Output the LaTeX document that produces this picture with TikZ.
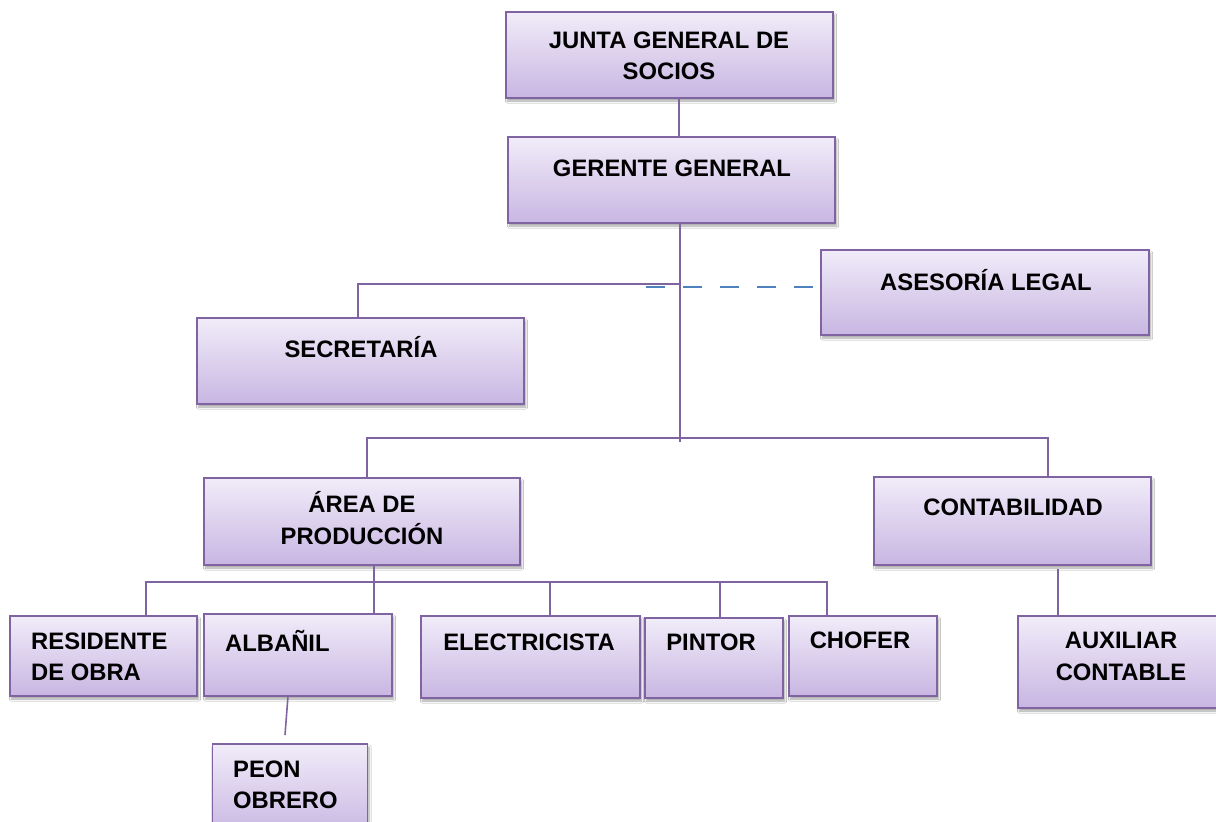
\documentclass[tikz,border=0pt]{standalone}
\usepackage{fontspec}
\setmainfont{Liberation Sans}
\usetikzlibrary{shadows.blur,calc}
\definecolor{boxline}{HTML}{8064A2}
\definecolor{boxtop}{HTML}{F1ECF9}
\definecolor{boxbot}{HTML}{C8B6E2}
\definecolor{dashblue}{HTML}{4F81BD}
\tikzset{
  box/.style={rectangle, draw=boxline, line width=1.5pt, top color=boxtop, bottom color=boxbot,
    inner sep=0pt, outer sep=0pt,
    blur shadow={shadow xshift=1.5pt, shadow yshift=-3pt, shadow blur steps=6, shadow opacity=35}},
  lbl/.style={font=\bfseries\fontsize{23.8}{31.5}\selectfont, align=center, inner sep=0pt, text=black},
  lbll/.style={lbl, align=left, anchor=west},
  conn/.style={draw=boxline, line width=1.6pt},
  dashconn/.style={draw=dashblue, line width=1.8pt, dash pattern=on 19pt off 18pt, dash phase=29pt}
}
\begin{document}
\begin{tikzpicture}[x=1pt,y=-1pt]
\useasboundingbox (0,0) rectangle (1216,822);
\clip (0,0) rectangle (1216,822);
\fill[white] (0,0) rectangle (1216,822);
% boxes
\node[box, minimum width=327pt, minimum height=86pt] (junta) at (669.5,55) {};
\node[box, minimum width=327pt, minimum height=86pt] (gerente) at (671.5,180) {};
\node[box, minimum width=328pt, minimum height=85pt] (asesoria) at (985,292.5) {};
\node[box, minimum width=327pt, minimum height=86pt] (secretaria) at (360.5,361) {};
\node[box, minimum width=316pt, minimum height=87pt] (area) at (362,521.5) {};
\node[box, minimum width=277pt, minimum height=88pt] (contab) at (1012.5,521) {};
\node[box, minimum width=187pt, minimum height=80pt] (residente) at (103.5,656) {};
\node[box, minimum width=188pt, minimum height=82pt] (albanil) at (298,655) {};
\node[box, minimum width=219pt, minimum height=82pt] (electricista) at (530.5,657) {};
\node[box, minimum width=138pt, minimum height=80pt] (pintor) at (714,658) {};
\node[box, minimum width=148pt, minimum height=80pt] (chofer) at (863,656) {};
\node[box, minimum width=240pt, minimum height=92pt] (aux) at (1138,662) {};
\node[box, minimum width=155pt, minimum height=92pt] (peon) at (290,790) {};
% texts
\node[lbl] (junta-t) at (669,56) {JUNTA GENERAL DE\\SOCIOS};
\node[lbl] (gerente-t) at (672,168) {GERENTE GENERAL};
\node[lbl] (asesoria-t) at (986,280) {ASESORÍA LEGAL};
\node[lbl] (secretaria-t) at (361,347) {SECRETARÍA};
\node[lbl] (area-t) at (362,518) {ÁREA DE\\PRODUCCIÓN};
\node[lbl] (contab-t) at (1013,507) {CONTABILIDAD};
\node[lbll] (residente-t) at (31,657) {RESIDENTE\\DE OBRA};
\node[lbll] (albanil-t) at (225,641) {ALBAÑIL};
\node[lbl] (electricista-t) at (529,642) {ELECTRICISTA};
\node[lbl] (pintor-t) at (711,642) {PINTOR};
\node[lbl] (chofer-t) at (860,640) {CHOFER};
\node[lbl] (aux-t) at (1121,656.5) {AUXILIAR\\CONTABLE};
\node[lbll] (peon-t) at (233,785) {PEON\\OBRERO};
% connector coordinates
\coordinate (trunkx) at (680,0);
\coordinate (trunkend) at (680,442);
\coordinate (secy) at (0,284);
\coordinate (busy) at (0,438);
\coordinate (bus2y) at (0,582);
\coordinate (dashy) at (0,287);
\coordinate (dashend) at (644,287);
\coordinate (choferin) at (827,616);
% connectors
\draw[conn] ([xshift=9.5pt]junta.south) -- ([xshift=7.5pt]gerente.north);
\draw[conn] (gerente.south -| trunkx) -- (trunkend);
\draw[conn] (secy -| trunkx) -| ([xshift=-2.5pt]secretaria.north);
\draw[dashconn] (asesoria.west |- dashy) -- (dashend);
\draw[conn] ([xshift=5pt]area.north) |- (busy -| trunkx) -| ([xshift=35.5pt]contab.north);
\draw[conn] ([xshift=12pt]area.south) -- ([xshift=76pt]albanil.north);
\draw[conn] ([xshift=42.5pt]residente.north) |- (bus2y -| choferin) -- (choferin);
\draw[conn] ([xshift=19.5pt]electricista.north) -- ([xshift=19.5pt]electricista.north |- bus2y);
\draw[conn] ([xshift=6pt]pintor.north) -- ([xshift=6pt]pintor.north |- bus2y);
\draw[conn] ([xshift=45.5pt,yshift=-4pt]contab.south) -- ([xshift=-80pt]aux.north);
\draw[conn] ([xshift=-10pt]albanil.south) -- ([xshift=-5pt,yshift=9pt]peon.north);
\end{tikzpicture}
\end{document}
